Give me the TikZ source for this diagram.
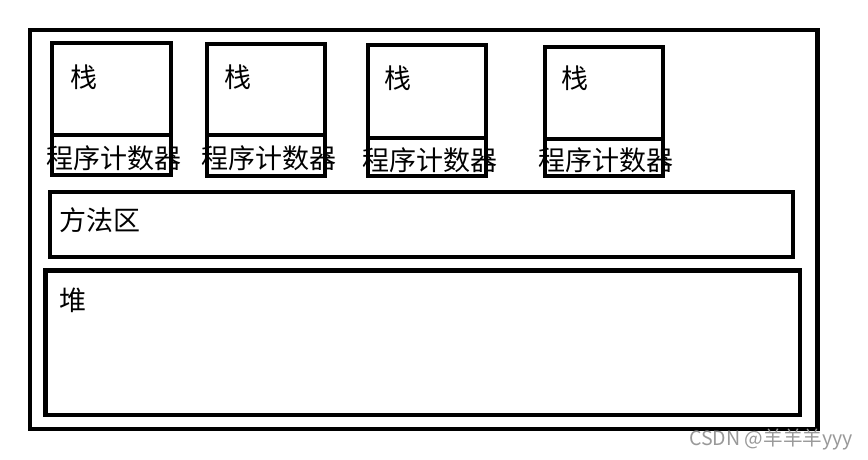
\documentclass[tikz,border=0pt]{standalone}
\usepackage{fontspec}
\setmainfont{Noto Sans CJK SC}
\usepackage{tikz}

\begin{document}
\begin{tikzpicture}[x=1pt,y=-1pt,
  box/.style={draw=black,line width=4.8pt},
  lbl/.style={anchor=west,inner sep=0pt,font=\fontsize{27}{30}\selectfont}]
  \useasboundingbox (0,0) rectangle (868,460);

  % Process frame
  \draw[box] (30,30) rectangle (817.5,429);

  % Thread 1
  \draw[box] (52,43) rectangle (171,175);
  \draw[box] (52,135) -- (171,135);
  \node[lbl] (stackA) at (70,77) {栈};
  \node[lbl] (pcA) at (46,158) {程序计数器};

  % Thread 2
  \draw[box] (207,44) rectangle (325,176);
  \draw[box] (207,135) -- (325,135);
  \node[lbl] (stackB) at (224,77) {栈};
  \node[lbl] (pcB) at (201,158) {程序计数器};

  % Thread 3
  \draw[box] (368,45) rectangle (486,176);
  \draw[box] (368,138) -- (486,138);
  \node[lbl] (stackC) at (384,78) {栈};
  \node[lbl] (pcC) at (362,160) {程序计数器};

  % Thread 4
  \draw[box] (545,47) rectangle (663,176);
  \draw[box] (545,139) -- (663,139);
  \node[lbl] (stackD) at (561,78) {栈};
  \node[lbl] (pcD) at (538,160) {程序计数器};

  % Shared areas
  \draw[box] (50,192) rectangle (793,257);
  \node[lbl] (method) at (59,220) {方法区};

  \draw[box] (45.5,270.5) rectangle (800,415);
  \node[lbl] (heap) at (59,300) {堆};

  % Watermark
  \node[anchor=west,inner sep=0pt,text=black!40,font=\fontsize{19.6}{22}\selectfont]
    (mark) at (689,440) {CSDN @羊羊羊yyy};
\end{tikzpicture}
\end{document}
